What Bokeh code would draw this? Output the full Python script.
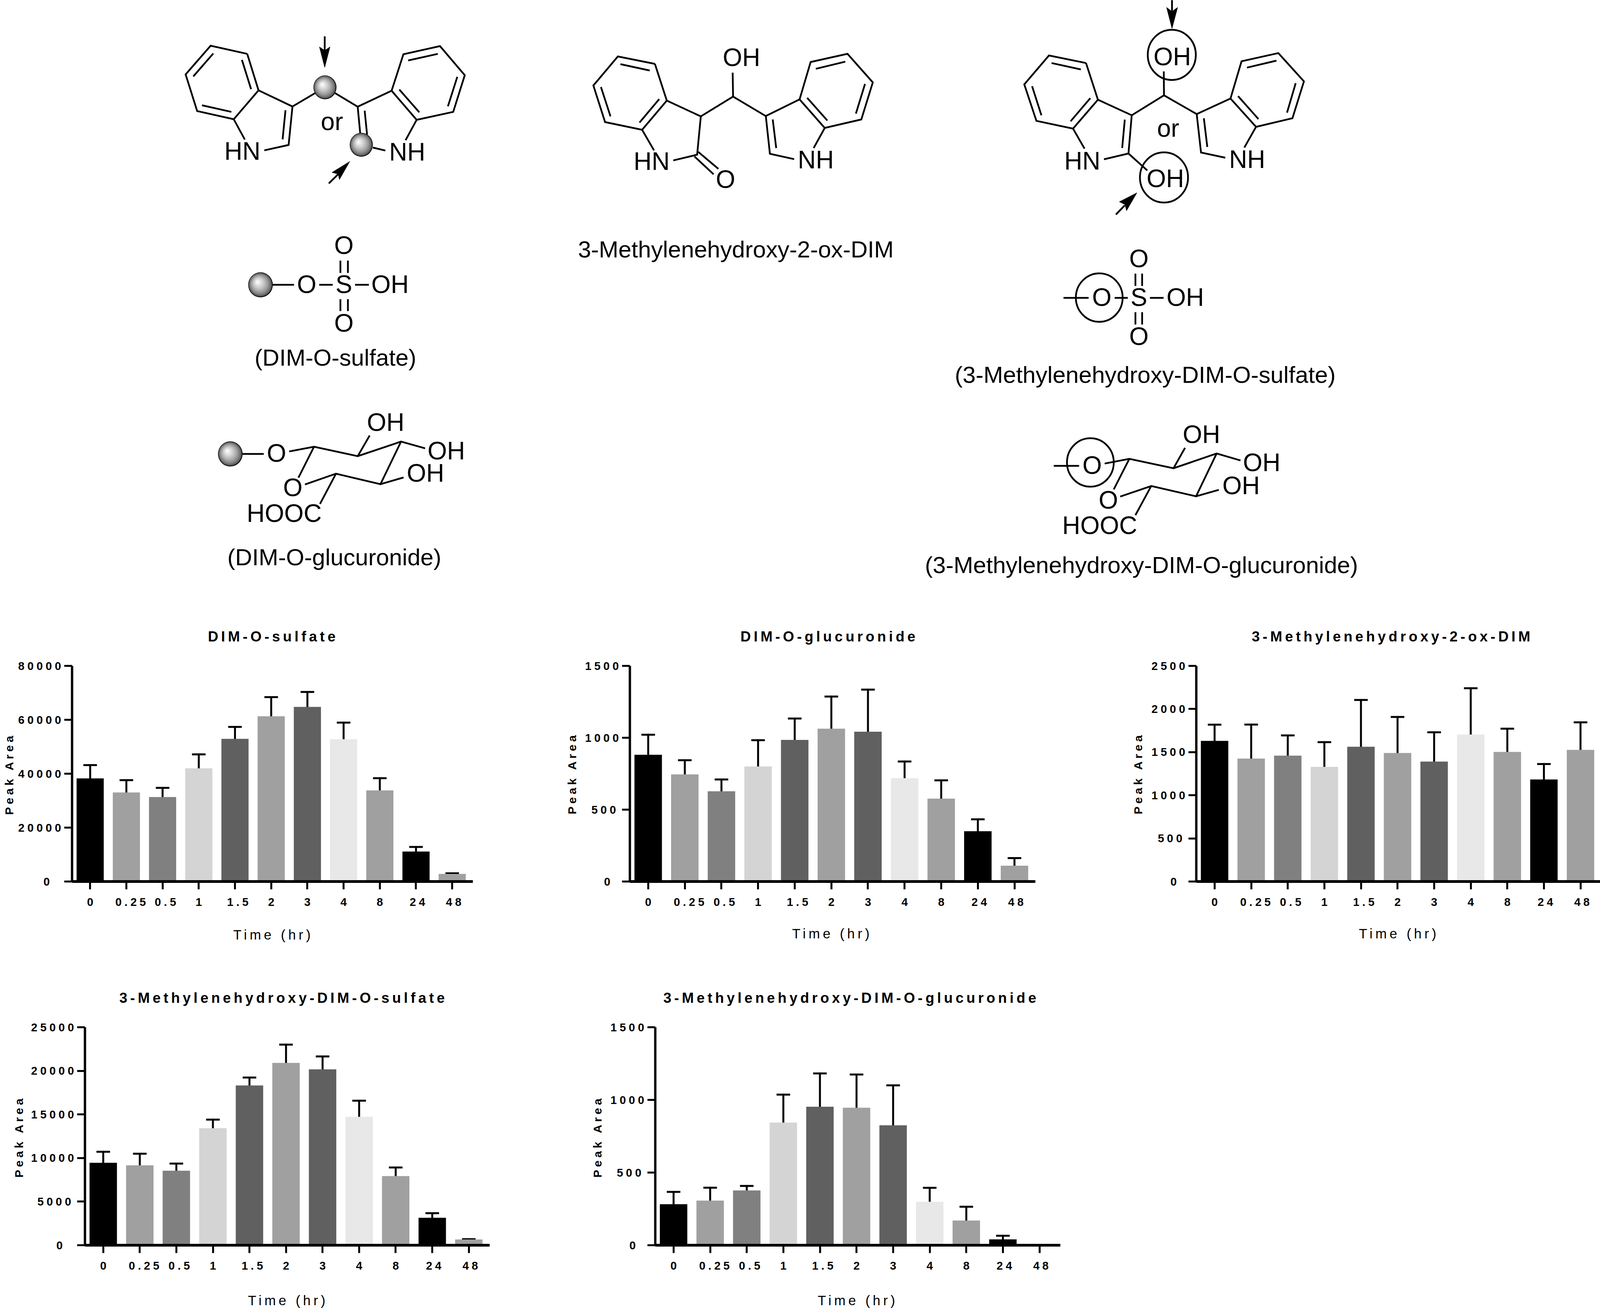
from bokeh.plotting import figure
from bokeh.layouts import column, row
from bokeh.models import Range1d, FixedTicker, ColumnDataSource, Whisker, TeeHead, Title
from bokeh.embed import file_html
from bokeh.resources import INLINE

# ---------- chart data ----------
time_labels = ["0", "0.25", "0.5", "1", "1.5", "2", "3", "4", "8", "24", "48"]
bar_colors = ["#000000", "#a0a0a0", "#808080", "#d4d4d4", "#606060", "#a0a0a0",
              "#606060", "#e8e8e8", "#a0a0a0", "#000000", "#a0a0a0"]

sulfate_mean = [38250, 33050, 31350, 41990, 52950, 61320, 64800, 52790, 33790, 11130, 2840]
sulfate_upper = [43200, 37600, 34760, 47190, 57340, 68390, 70340, 58960, 38340, 12830, 3050]
sulfate_ticks = [0, 20000, 40000, 60000, 80000]

glucuronide_mean = [882, 745, 628, 800, 985, 1063, 1042, 719, 577, 350, 110]
glucuronide_upper = [1021, 844, 710, 983, 1134, 1287, 1335, 835, 704, 433, 163]
glucuronide_ticks = [0, 500, 1000, 1500]

oxdim_mean = [1631, 1425, 1460, 1329, 1563, 1490, 1390, 1704, 1503, 1183, 1526]
oxdim_upper = [1818, 1820, 1694, 1616, 2105, 1908, 1730, 2241, 1772, 1362, 1845]
oxdim_ticks = [0, 500, 1000, 1500, 2000, 2500]

mh_sulfate_mean = [9458, 9163, 8547, 13424, 18325, 20911, 20172, 14729, 7931, 3153, 665]
mh_sulfate_upper = [10714, 10493, 9360, 14409, 19236, 23005, 21650, 16576, 8916, 3670, 700]
mh_sulfate_ticks = [0, 5000, 10000, 15000, 20000, 25000]

mh_glucuronide_mean = [282, 307, 377, 844, 953, 946, 825, 299, 170, 40, 0]
mh_glucuronide_upper = [367, 396, 408, 1036, 1182, 1175, 1100, 395, 265, 65, 0]
mh_glucuronide_ticks = [0, 500, 1000, 1500]

FONT = "Liberation Sans"
SX = 0.9659        # the window's usable width, relative to the reference
OX = 6.6
SF = 0.97          # text and stroke scale
SPACING = 7.5
ROW1_TOP = 1555
ROW2_TOP = 2481
ROW2_BOTTOM = 3422


def fx(v):
    return int(round(OX + v * SX))


def fs(v):
    return f"{v * SF:.1f}px"


def side_title(text, bold, size, standoff, offset):
    """A title beside an axis, started at an exact distance along the frame."""
    t = Title(text=text, align="left", offset=offset, standoff=standoff)
    t.text_font = FONT
    t.text_font_style = "bold" if bold else "normal"
    t.text_font_size = fs(size)
    t.text_color = "black"
    return t


def bar_panel(title, mean, upper, ticks, fig_x0, fig_x1, fig_y0, fig_y1, axis_x, axis_end,
              top, base, title_left, ylabel_standoff, ylabel_bottom, xlabel_left, xlabel_standoff):
    x_end = 10.57
    ymax = ticks[-1]
    left_edge = 8 if fig_x0 == 0 else fx(fig_x0)
    p = figure(width=fx(fig_x1) - left_edge, height=int(fig_y1 - fig_y0),
               output_backend="svg", toolbar_location=None,
               x_range=Range1d(-0.5, x_end), y_range=Range1d(0, ymax),
               min_border_left=fx(axis_x) - left_edge, min_border_right=fx(fig_x1) - fx(axis_end),
               min_border_top=int(top - fig_y0), min_border_bottom=int(fig_y1 - base),
               background_fill_color="white", border_fill_color="white",
               stylesheets=[":host{letter-spacing:%.2fpx}" % (SPACING * SX)])
    p.grid.visible = False
    p.outline_line_color = None
    xs = list(range(len(time_labels)))
    src = ColumnDataSource(dict(x=xs, top=mean, upper=upper, color=bar_colors))
    p.vbar(x="x", top="top", bottom=0, width=0.75, fill_color="color", line_color=None, source=src)
    w = Whisker(base="x", lower="top", upper="upper", source=src, dimension="height",
                line_color="black", line_width=5, line_cap="round",
                upper_head=TeeHead(size=36 * SX, line_color="black", line_width=5), lower_head=None)
    p.add_layout(w)

    p.title.text = title
    p.title.align = "left"
    p.title.offset = (title_left - axis_x) * SX
    p.title.text_font = FONT
    p.title.text_font_style = "bold"
    p.title.text_font_size = fs(38)
    p.title.text_color = "black"
    p.title.standoff = 110

    xa = p.xaxis[0]
    xa.ticker = FixedTicker(ticks=xs)
    xa.major_label_overrides = dict(zip(xs, time_labels))
    xa.major_label_standoff = 22
    ya = p.yaxis[0]
    ya.ticker = FixedTicker(ticks=ticks)
    ya.major_label_overrides = {t: str(t) for t in ticks}
    ya.major_label_standoff = int(9 + SPACING * SX * (len(str(ymax)) - 1))
    for ax, lw in ((xa, 7), (ya, 6)):
        ax.axis_line_color = "black"
        ax.axis_line_width = lw
        ax.major_tick_line_color = "black"
        ax.major_tick_line_width = 5
        ax.major_tick_in = 0
        ax.major_tick_out = 20
        ax.minor_tick_line_color = None
        ax.major_label_text_font = FONT
        ax.major_label_text_font_style = "bold"
        ax.major_label_text_font_size = fs(30)
        ax.major_label_text_color = "black"

    p.add_layout(side_title("Time (hr)", False, 36, xlabel_standoff, (xlabel_left - axis_x) * SX), "below")
    p.add_layout(side_title("Peak Area", True, 31, ylabel_standoff, base - ylabel_bottom), "left")
    return p


p1 = bar_panel("DIM-O-sulfate", sulfate_mean, sulfate_upper, sulfate_ticks,
               0, 1450, ROW1_TOP, ROW2_TOP, 189, 1254, 1711, 2263.5, 549, 8, 2093, 616, 98)
p2 = bar_panel("DIM-O-glucuronide", glucuronide_mean, glucuronide_upper, glucuronide_ticks,
               1450, 2950, ROW1_TOP, ROW2_TOP, 1670, 2745, 1712, 2269, 1963, 28, 2097, 2100, 92)
p3 = bar_panel("3-Methylenehydroxy-2-ox-DIM", oxdim_mean, oxdim_upper, oxdim_ticks,
               2950, 4250, ROW1_TOP, ROW2_TOP, 3172, 4245, 1712, 2269, 3319, 30, 2097, 3603, 92)
p4 = bar_panel("3-Methylenehydroxy-DIM-O-sulfate", mh_sulfate_mean, mh_sulfate_upper, mh_sulfate_ticks,
               0, 1500, ROW2_TOP, ROW2_BOTTOM, 226, 1299, 2637, 3195, 317, 24, 3022, 658, 108)
p5 = bar_panel("3-Methylenehydroxy-DIM-O-glucuronide", mh_glucuronide_mean, mh_glucuronide_upper,
               mh_glucuronide_ticks,
               1500, 2900, ROW2_TOP, ROW2_BOTTOM, 1737.5, 2811, 2637, 3195, 1759, 28, 3022, 2168, 108)

# ---------- chemical structures ----------
dim_block = dict(
    o=(350, 0, 1.568, 1.96),
    lines=[[(480,285),(328,244),(224,388),(272,572),(424,613),(527,468),(480,285)],
           [(458,315),(496,462)], [(339,283),(256,398)], [(292,543),(414,576)],
           [(527,468),(668,549),(652,742),(551,769)], [(424,613),(470,715)], [(639,568),(627,714)],
           [(668,549),(762,482)], [(845,482),(939,550),(1080,470)], [(939,550),(950,690)],
           [(968,570),(978,690)], [(1080,470),(1184,616)], [(1112,464),(1195,578)],
           [(1080,470),(1129,287),(1281,246),(1384,392),(1336,576),(1184,616)],
           [(1149,318),(1272,285)], [(1353,400),(1314,548)], [(1184,616),(1138,718)],
           [(1002,755),(1054,770)], [(802,197),(802,270)], [(819,935),(860,886)]],
    labels=[("HN",460,762), ("NH",1145,765), ("or",832,612)],
    heads=[[(802,353),(780,250),(802,268),(824,250)], [(906,825),(832,880),(858,888),(863,916)]],
    balls=[(803,453,48,60), (954,741,48,60)], circles=[])

left_subs_block = dict(
    o=(500, 600, 1.96, 1.742),
    lines=[[(418,238),(549,238)], [(680,238),(750,238)], [(866,238),(938,238)],
           [(790,130),(790,185)], [(829,130),(829,185)], [(790,302),(790,355)], [(829,302),(829,355)],
           [(262,992),(392,992)], [(524,981),(653,960),(880,1002),(1105,937),(1230,967)],
           [(880,1002),(942,910)], [(653,960),(572,1098)], [(606,1128),(767,1080),(998,1127),(1105,937)],
           [(998,1127),(1118,1097)], [(767,1080),(684,1215)]],
    labels=[("O",615,225), ("S",808,225), ("OH",1048,225), ("O",808,52), ("O",808,398),
            ("O",458,978), ("OH",1340,967), ("OH",1025,840), ("O",543,1132), ("OH",1232,1067),
            ("HOOC",498,1247)],
    heads=[], balls=[(375,238,64,56), (218,992,64,56)], circles=[])

oxdim_block = dict(
    o=(1500, 80, 1.742, 2.529),
    lines=[[(412,230),(241,182),(128,370),(182,607),(353,657),(467,468),(412,230)],
           [(253,232),(388,273)], [(163,380),(207,570)], [(341,610),(432,458)],
           [(467,468),(624,570),(607,818),(497,855)], [(353,657),(408,790)],
           [(624,570),(773,442),(771,287)], [(773,442),(924,568)],
           [(612,800),(705,910)], [(595,830),(683,945)],
           [(924,568),(1080,460)], [(924,568),(943,812),(1055,847)], [(956,590),(972,775)],
           [(1080,460),(1131,218),(1301,165),(1418,350),(1365,590),(1196,645),(1080,460)],
           [(1155,262),(1291,216)], [(1382,360),(1340,552)], [(1115,450),(1208,597)],
           [(1196,645),(1145,775)]],
    labels=[("OH",812,172), ("HN",397,847), ("NH",1155,835), ("O",738,963)],
    heads=[], balls=[], circles=[])

mh_block = dict(
    o=(2650, 0, 1.742, 1.96),
    lines=[[(399,331),(228,293),(114,438),(170,621),(339,660),(454,515),(399,331)],
           [(240,331),(375,363)], [(150,447),(193,593)], [(328,623),(419,507)],
           [(454,515),(610,593),(595,785),(482,814)], [(578,615),(566,757)], [(339,660),(392,760)],
           [(595,785),(682,870)], [(610,593),(759,493),(758,373)], [(759,493),(910,587)],
           [(910,587),(1066,509)], [(910,587),(930,780),(1042,806)], [(943,608),(959,752)],
           [(1066,509),(1117,322),(1287,281),(1405,423),(1352,608),(1184,651),(1066,509)],
           [(1142,354),(1278,319)], [(1367,432),(1327,580)], [(1101,497),(1195,612)],
           [(1184,651),(1130,755)], [(796,0),(796,70)], [(537,1091),(578,1045)]],
    labels=[("OH",797,287), ("HN",382,810), ("OH",765,898), ("NH",1143,803), ("or",778,645)],
    heads=[[(796,158),(771,52),(796,72),(822,52)], [(634,982),(553,1027),(579,1041),(586,1072)]],
    balls=[], circles=[(795,290,111,126), (759,905,111,126)])

right_subs_block = dict(
    o=(2700, 600, 1.742, 1.742),
    lines=[[(208,296),(324,296)], [(444,296),(505,296)], [(607,296),(670,296)],
           [(540,188),(540,243)], [(571,188),(571,243)], [(540,360),(540,415)], [(571,360),(571,415)],
           [(163,1045),(280,1045)], [(398,1035),(512,1014),(716,1056),(915,990),(1025,1021)],
           [(716,1056),(769,965)], [(512,1014),(440,1150)], [(470,1182),(613,1135),(820,1181),(915,990)],
           [(820,1181),(925,1152)], [(613,1135),(540,1265)]],
    labels=[("O",385,283), ("S",556,283), ("OH",770,283), ("O",556,110), ("O",556,458),
            ("O",340,1032), ("OH",1123,1020), ("OH",845,895), ("O",415,1187), ("OH",1028,1122),
            ("HOOC",375,1300)],
    heads=[], balls=[], circles=[(373,295,108,108), (332,1030,108,108)])

captions = [("(DIM-O-sulfate)", 890, 917),
            ("(DIM-O-glucuronide)", 887, 1428),
            ("3-Methylenehydroxy-2-ox-DIM", 1951, 640),
            ("(3-Methylenehydroxy-DIM-O-sulfate)", 3036, 961),
            ("(3-Methylenehydroxy-DIM-O-glucuronide)", 3026, 1448)]

chem = figure(width=fx(4250) - 8, height=ROW1_TOP - 8, output_backend="svg", toolbar_location=None,
              x_range=Range1d((8 - OX) / SX, 4250), y_range=Range1d(ROW1_TOP, 8),
              min_border_left=0, min_border_right=0, min_border_top=0, min_border_bottom=0,
              background_fill_color="white", border_fill_color="white")
chem.axis.visible = False
chem.grid.visible = False
chem.outline_line_color = None

LAYERS = 18
TEXT_DROP = 6
for block in (dim_block, left_subs_block, oxdim_block, mh_block, right_subs_block):
    ox, oy, sx, sy = block["o"]
    X = lambda v: ox + v / sx
    Y = lambda v: oy + v / sy
    chem.multi_line(xs=[[X(a) for a, _ in pl] for pl in block["lines"]],
                    ys=[[Y(b) for _, b in pl] for pl in block["lines"]],
                    line_color="black", line_width=4.5, line_join="miter")
    if block["heads"]:
        chem.patches(xs=[[X(a) for a, _ in h] for h in block["heads"]],
                     ys=[[Y(b) for _, b in h] for h in block["heads"]],
                     fill_color="black", line_color="black", line_width=1)
    for cx, cy, rx, ry in block["circles"]:
        chem.ellipse(x=X(cx), y=Y(cy), width=2 * rx / sx, height=2 * ry / sy,
                     fill_color=None, line_color="black", line_width=4.5)
    for cx, cy, rx, ry in block["balls"]:
        for i in range(LAYERS):
            t = i / (LAYERS - 1)
            grey = int(45 + 210 * t ** 0.55) if i else 15
            scale = 1 - 0.97 * t
            chem.ellipse(x=X(cx - 0.25 * rx * t), y=Y(cy - 0.25 * ry * t),
                         width=2 * rx * scale / sx, height=2 * ry * scale / sy,
                         fill_color=f"#{grey:02x}{grey:02x}{grey:02x}", line_color=None)
    chem.text(x=[X(a) for _, a, _ in block["labels"]], y=[Y(b) + TEXT_DROP for _, _, b in block["labels"]],
              text=[s for s, _, _ in block["labels"]], text_font={"value": FONT},
              text_font_size={"value": fs(66)}, text_align="center", text_baseline="middle",
              text_color="black")
chem.text(x=[c[1] for c in captions], y=[c[2] + TEXT_DROP for c in captions], text=[c[0] for c in captions],
          text_font={"value": FONT}, text_font_size={"value": fs(62)}, text_align="center",
          text_baseline="middle", text_color="black")

page = column(chem, row(p1, p2, p3, spacing=0), row(p4, p5, spacing=0), spacing=0)
open("out.html", "w").write(file_html(page, INLINE))
